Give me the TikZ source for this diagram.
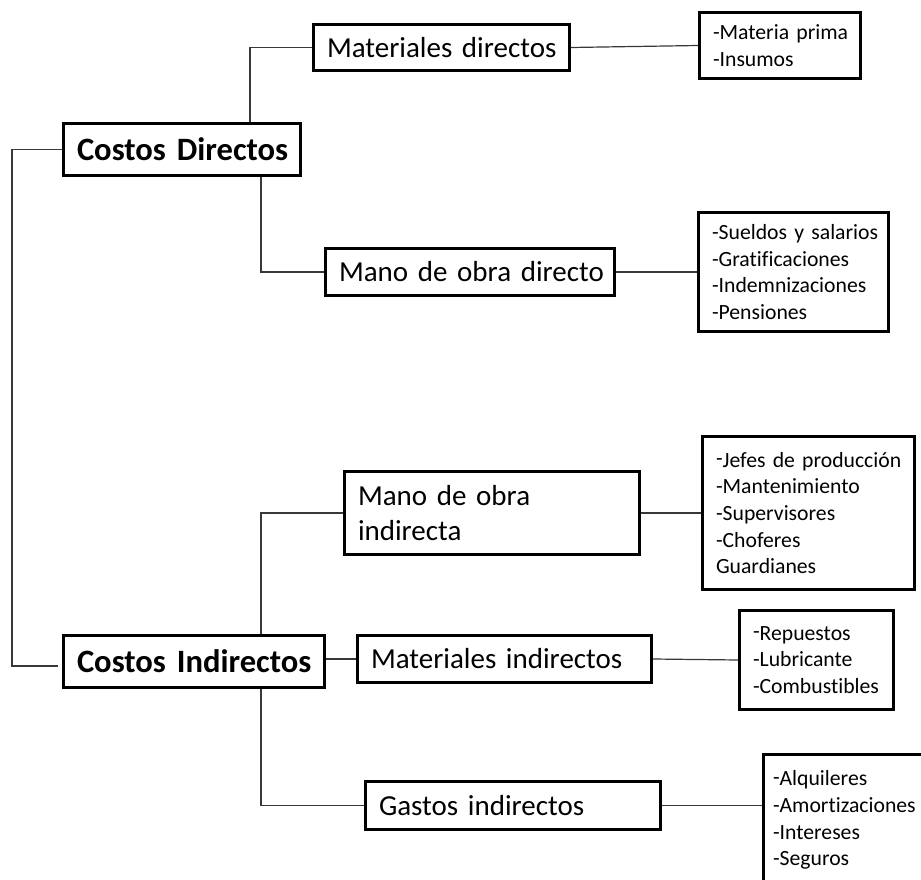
\documentclass[tikz,border=0pt]{standalone}
\usepackage{fontspec}
\setmainfont{Carlito}[RawFeature={-liga;-clig;-dlig}]
\newcommand\hdash{\raisebox{1.5pt}{-}}
\begin{document}
\begin{tikzpicture}[x=1pt,y=-1pt,
  box/.style={draw=black, line width=3pt, rectangle, inner xsep=13.5pt, inner ysep=0pt, align=left},
  big/.style={box, font=\fontsize{32.6}{39}\selectfont\bfseries},
  mid/.style={box, font=\fontsize{29}{35}\selectfont},
  sml/.style={box, font=\fontsize{21.7}{26.7}\selectfont},
  link/.style={draw=black!78, line width=1.2pt}]
\useasboundingbox (0,0) rectangle (921,880);
\clip (0,0) rectangle (921,880);

% level 1
\node[big, minimum width=237pt, minimum height=52pt, text width=210pt] (CD) at (182,149.5) {\mbox{Costos Directos}};
\node[big, minimum width=261pt, minimum height=52pt, text width=234pt] (CI) at (194,661.5) {\mbox{Costos Indirectos}};

% level 2
\node[mid, minimum width=256pt, minimum height=46pt, text width=229pt] (MD) at (441.5,47.5) {\mbox{Materiales directos}};
\node[mid, minimum width=289pt, minimum height=47pt, text width=262pt] (MOD) at (470,272) {\mbox{Mano de obra directo}};
\node[mid, minimum width=295pt, minimum height=83pt, text width=268pt] (MOI) at (492,513) {\mbox{Mano de obra}\\\mbox{indirecta}};
\node[mid, minimum width=294pt, minimum height=47pt, text width=267pt] (MI) at (504.5,659) {\mbox{Materiales indirectos}};
\node[mid, minimum width=295pt, minimum height=48pt, text width=268pt] (GI) at (513,805.5) {\mbox{Gastos indirectos}};

% level 3
\node[sml, minimum width=161pt, minimum height=66pt, text width=134pt] (MP) at (780,45.5) {\mbox{-Materia prima}\\\mbox{-Insumos}};
\node[sml, minimum width=190pt, minimum height=119pt, text width=163pt] (SU) at (793.5,272) {\mbox{-Sueldos y salarios}\\\mbox{-Gratificaciones}\\\mbox{-Indemnizaciones}\\\mbox{-Pensiones}};
\node[sml, minimum width=212pt, minimum height=153pt, text width=185pt] (JE) at (808.5,513) {\mbox{\hdash Jefes de producción}\\\mbox{-Mantenimiento}\\\mbox{-Supervisores}\\\mbox{-Choferes}\\\mbox{Guardianes}};
\node[sml, minimum width=154pt, minimum height=99pt, text width=127pt] (RE) at (816.5,660) {\mbox{\hdash Repuestos}\\\mbox{-Lubricante}\\\mbox{-Combustibles}};
\node[sml, inner xsep=9.5pt, minimum width=175pt, minimum height=131pt, text width=156pt] (AL) at (851,820) {\mbox{\hdash Alquileres}\\\mbox{-Amortizaciones}\\\mbox{-Intereses}\\\mbox{-Seguros}};

% connectors
\draw[link] (CD.west) -- ++(-50,0) |- ([shift={(-4,4.5)}]CI.west);
\draw[link] ([xshift=68pt]CD.north) |- (MD.west);
\draw[link] ([xshift=79pt]CD.south) |- (MOD.west);
\draw[link] (MD.east) -- (MP.west);
\draw[link] (MOD.east) -- (SU.west);
\draw[link] ([xshift=67pt]CI.north) |- (MOI.west);
\draw[link] (CI.east |- MI.west) -- (MI.west);
\draw[link] ([xshift=67pt]CI.south) |- (GI.west);
\draw[link] (MOI.east) -- (JE.west);
\draw[link] (MI.east) -- (RE.west);
\draw[link] (GI.east) -- (GI.east -| AL.west);
\end{tikzpicture}
\end{document}
